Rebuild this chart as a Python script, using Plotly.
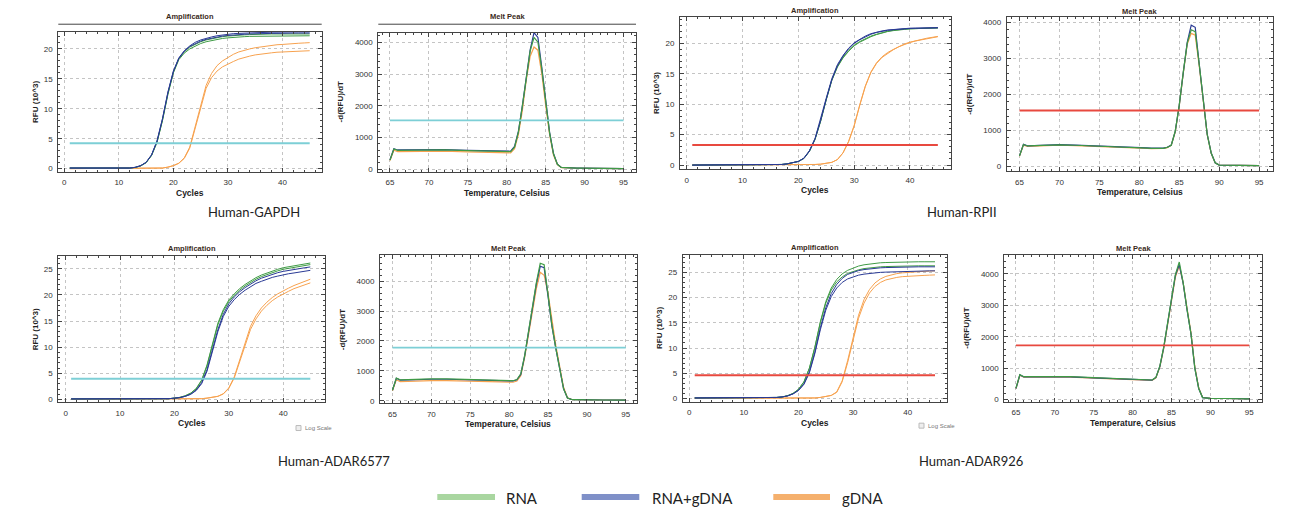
import plotly.graph_objects as go

W, H = 1302, 517

# ---------------- data ----------------
cycles = list(range(1, 46))

# GAPDH amplification (RFU x10^3)
gapdh_rna_1 = [0.1,0.1,0.05,0.05,0,0,0,0,0,0,0.05,0.1,0.2,0.45,1.0,2.2,4.4,8.0,12.4,16.0,18.2,19.3,20.0,20.5,20.9,21.2,21.4,21.6,21.75,21.85,21.95,22.0,22.05,22.1,22.1,22.15,22.15,22.2,22.2,22.2,22.2,22.2,22.2,22.2,22.2]
gapdh_rna_2 = [0.1,0.1,0.05,0.05,0,0,0,0,0,0,0.05,0.1,0.2,0.45,1.0,2.2,4.4,8.1,12.5,16.1,18.4,19.5,20.3,20.8,21.2,21.5,21.7,21.9,22.05,22.15,22.25,22.3,22.35,22.4,22.45,22.45,22.5,22.5,22.5,22.5,22.5,22.5,22.5,22.5,22.5]
gapdh_mix_1 = [0.1,0.1,0.05,0.05,0,0,0,0,0,0,0.05,0.1,0.22,0.5,1.05,2.3,4.6,8.3,12.8,16.3,18.5,19.7,20.5,21.1,21.5,21.8,22.0,22.2,22.35,22.45,22.55,22.6,22.65,22.7,22.75,22.75,22.8,22.8,22.8,22.85,22.85,22.85,22.85,22.85,22.85]
gapdh_mix_2 = [0.1,0.1,0.05,0.05,0,0,0,0,0,0,0.05,0.1,0.22,0.5,1.05,2.3,4.6,8.3,12.7,16.2,18.4,19.6,20.4,20.9,21.3,21.6,21.8,22.0,22.15,22.25,22.35,22.4,22.45,22.5,22.55,22.55,22.6,22.6,22.6,22.65,22.65,22.65,22.65,22.65,22.65]
gapdh_gdna_1 = [0,0,0,0,0,0,0,0,0,0,0,0,0,0,0,0.05,0.05,0.1,0.25,0.5,0.9,1.8,3.6,7.0,10.8,13.9,15.9,17.2,18.0,18.6,19.1,19.5,19.8,20.0,20.2,20.35,20.5,20.6,20.7,20.75,20.85,20.9,20.95,21.0,21.05]
gapdh_gdna_2 = [0,0,0,0,0,0,0,0,0,0,0,0,0,0,0,0.05,0.05,0.1,0.25,0.5,0.9,1.7,3.4,6.7,10.4,13.4,15.2,16.3,17.0,17.5,17.9,18.3,18.6,18.8,19.0,19.15,19.25,19.35,19.45,19.5,19.55,19.6,19.65,19.7,19.7]

# RPII amplification
rpii_rna_1 = [0,0,0,0,0,0,0,0,0,0,0,0,0,0,0,0,0.1,0.2,0.35,0.6,1.1,2.3,4.3,7.3,10.8,14.0,16.2,17.7,18.8,19.7,20.3,20.8,21.2,21.5,21.8,22.0,22.15,22.3,22.35,22.4,22.45,22.5,22.55,22.55,22.55]
rpii_rna_2 = [0,0,0,0,0,0,0,0,0,0,0,0,0,0,0,0,0.1,0.2,0.35,0.6,1.1,2.3,4.2,7.2,10.7,13.9,16.1,17.6,18.7,19.6,20.2,20.7,21.1,21.45,21.75,21.95,22.1,22.25,22.3,22.4,22.45,22.5,22.5,22.55,22.55]
rpii_mix_1 = [0,0,0,0,0,0,0,0,0,0,0,0,0,0,0,0,0.1,0.2,0.35,0.6,1.1,2.3,4.3,7.3,10.8,14.0,16.3,17.9,19.1,20.0,20.6,21.1,21.5,21.8,22.0,22.15,22.25,22.35,22.4,22.45,22.5,22.5,22.55,22.55,22.55]
rpii_mix_2 = [0,0,0,0,0,0,0,0,0,0,0,0,0,0,0,0,0.1,0.2,0.35,0.6,1.15,2.4,4.4,7.5,11.0,14.2,16.5,18.0,19.2,20.1,20.7,21.2,21.6,21.85,22.05,22.2,22.3,22.4,22.45,22.5,22.5,22.55,22.55,22.6,22.6]
rpii_gdna_1 = [0,0,0,0,0,0,0,0,0,0,0,0,0,0,0,0,0,0,0,0.05,0.05,0.05,0.1,0.15,0.25,0.45,0.9,2.0,3.9,6.5,9.9,13.0,15.3,16.8,17.8,18.5,19.0,19.5,19.9,20.2,20.45,20.65,20.85,21.0,21.15]
rpii_gdna_2 = [0,0,0,0,0,0,0,0,0,0,0,0,0,0,0,0,0,0,0,0.05,0.05,0.05,0.1,0.15,0.25,0.45,0.9,2.0,3.8,6.4,9.8,12.9,15.2,16.7,17.7,18.4,18.95,19.45,19.85,20.15,20.4,20.6,20.8,20.95,21.1]

# ADAR6577 amplification
a65_rna_1 = [0.1,0.1,0.1,0.1,0.1,0.1,0.1,0.1,0.1,0.1,0.1,0.1,0.1,0.1,0.1,0.1,0.1,0.1,0.15,0.25,0.4,0.7,1.2,2.1,3.7,6.6,10.6,14.6,17.2,19.0,20.2,21.2,22.0,22.7,23.3,23.8,24.2,24.6,24.9,25.2,25.4,25.6,25.8,25.95,26.1]
a65_rna_2 = [0.1,0.1,0.1,0.1,0.1,0.1,0.1,0.1,0.1,0.1,0.1,0.1,0.1,0.1,0.1,0.1,0.1,0.1,0.15,0.25,0.4,0.7,1.2,2.0,3.6,6.4,10.3,14.3,16.9,18.7,19.9,20.9,21.7,22.4,23.0,23.5,23.9,24.3,24.6,24.9,25.1,25.3,25.5,25.65,25.8]
a65_mix_1 = [0.1,0.1,0.1,0.1,0.1,0.1,0.1,0.1,0.1,0.1,0.1,0.1,0.1,0.1,0.1,0.1,0.1,0.1,0.15,0.25,0.35,0.6,1.0,1.8,3.2,5.7,9.5,13.4,16.3,18.3,19.6,20.6,21.4,22.1,22.7,23.2,23.6,23.95,24.25,24.5,24.7,24.9,25.05,25.2,25.35]
a65_mix_2 = [0.1,0.1,0.1,0.1,0.1,0.1,0.1,0.1,0.1,0.1,0.1,0.1,0.1,0.1,0.1,0.1,0.1,0.1,0.15,0.25,0.35,0.6,1.0,1.7,3.0,5.4,9.1,13.0,15.9,17.8,19.1,20.1,20.9,21.6,22.2,22.6,23.0,23.35,23.6,23.85,24.05,24.2,24.4,24.55,24.7]
a65_gdna_1 = [0.05,0.05,0.05,0.05,0.05,0.05,0.05,0.05,0.05,0.05,0.05,0.05,0.05,0.05,0.05,0.05,0.05,0.05,0.05,0.05,0.05,0.05,0.05,0.05,0.15,0.25,0.4,0.6,1.1,2.2,4.3,7.5,11.0,14.0,16.0,17.5,18.6,19.5,20.2,20.8,21.3,21.8,22.2,22.6,23.0]
a65_gdna_2 = [0.05,0.05,0.05,0.05,0.05,0.05,0.05,0.05,0.05,0.05,0.05,0.05,0.05,0.05,0.05,0.05,0.05,0.05,0.05,0.05,0.05,0.05,0.05,0.05,0.15,0.25,0.4,0.6,1.05,2.1,4.1,7.1,10.5,13.4,15.4,16.9,18.0,18.9,19.6,20.2,20.7,21.2,21.6,21.95,22.3]

# ADAR926 amplification
a92_rna_1 = [0.1,0.1,0.1,0.1,0.1,0.1,0.1,0.1,0.1,0.1,0.1,0.1,0.1,0.1,0.15,0.2,0.3,0.55,1.0,1.8,3.3,6.0,10.2,15.2,19.2,21.9,23.6,24.7,25.4,25.9,26.25,26.5,26.65,26.8,26.9,26.95,27.0,27.0,27.05,27.05,27.05,27.1,27.1,27.1,27.1]
a92_rna_2 = [0.1,0.1,0.1,0.1,0.1,0.1,0.1,0.1,0.1,0.1,0.1,0.1,0.1,0.1,0.15,0.2,0.3,0.55,1.0,1.8,3.3,6.0,10.1,15.0,18.9,21.5,23.1,24.1,24.8,25.2,25.5,25.75,25.9,26.0,26.1,26.15,26.2,26.2,26.25,26.25,26.3,26.3,26.3,26.3,26.3]
a92_mix_1 = [0.1,0.1,0.1,0.1,0.1,0.1,0.1,0.1,0.1,0.1,0.1,0.1,0.1,0.1,0.15,0.2,0.3,0.5,0.9,1.6,2.9,5.3,9.2,14.0,18.0,20.8,22.6,23.8,24.6,25.0,25.35,25.55,25.7,25.8,25.9,25.95,26.0,26.0,26.05,26.05,26.1,26.1,26.1,26.1,26.1]
a92_mix_2 = [0.1,0.1,0.1,0.1,0.1,0.1,0.1,0.1,0.1,0.1,0.1,0.1,0.1,0.1,0.15,0.2,0.3,0.5,0.9,1.6,2.8,5.1,8.9,13.6,17.5,20.2,21.9,23.0,23.7,24.1,24.45,24.65,24.8,24.9,25.0,25.05,25.1,25.15,25.2,25.2,25.25,25.25,25.3,25.3,25.3]
a92_gdna_1 = [0.05,0.05,0.05,0.05,0.05,0.05,0.05,0.05,0.05,0.05,0.05,0.05,0.05,0.05,0.05,0.05,0.05,0.05,0.05,0.05,0.05,0.05,0.1,0.2,0.35,0.6,1.3,3.5,7.5,12.0,16.5,19.6,21.6,22.9,23.7,24.2,24.5,24.75,24.9,25.0,25.1,25.15,25.2,25.25,25.3]
a92_gdna_2 = [0.05,0.05,0.05,0.05,0.05,0.05,0.05,0.05,0.05,0.05,0.05,0.05,0.05,0.05,0.05,0.05,0.05,0.05,0.05,0.05,0.05,0.05,0.1,0.2,0.35,0.6,1.2,3.3,7.1,11.5,15.9,18.9,20.9,22.2,23.0,23.5,23.8,24.0,24.15,24.25,24.3,24.35,24.4,24.45,24.5]

# Melt peak temperatures (Celsius)
temps = [65,65.5,66,67,68,70,72,75,78,80,80.5,81,81.5,82,82.5,83,83.5,84,84.5,85,85.5,86,86.5,87,87.5,88,88.5,89,89.5,90,92,95]

# GAPDH melt -d(RFU)/dT
gapdh_melt_rna = [290,640,600,600,610,620,610,590,570,560,560,700,1180,1980,2930,3720,4150,4000,3150,2080,1150,490,160,60,50,45,45,40,40,40,35,20]
gapdh_melt_mix = [300,650,610,610,620,630,620,600,580,570,570,720,1200,2000,2950,3750,4300,4150,3200,2100,1170,500,160,60,50,45,45,40,40,40,35,20]
gapdh_melt_gdna = [280,600,560,560,570,580,570,550,530,520,520,650,1100,1850,2800,3550,3850,3750,3000,2000,1100,450,150,55,45,40,40,35,35,35,30,20]

# RPII melt
rpii_melt_rna = [300,615,575,585,595,605,595,575,545,525,520,515,510,505,505,510,535,595,990,1710,2620,3430,3800,3750,2850,1800,900,380,110,45,40,30]
rpii_melt_mix = [300,620,580,590,600,610,600,580,550,530,525,520,515,510,510,515,540,600,980,1700,2600,3450,3930,3870,2850,1800,900,380,110,45,40,30]
rpii_melt_gdna = [290,600,565,575,585,595,585,565,535,515,510,505,500,500,500,505,530,590,960,1680,2580,3400,3700,3650,2800,1780,890,370,105,45,40,30]

# ADAR6577 melt
a65_melt_rna = [350,760,700,710,720,730,730,710,690,670,670,710,900,1520,2350,3150,3950,4600,4550,3550,2520,1760,1050,400,90,45,40,35,35,30,25,20]
a65_melt_mix = [350,750,690,700,710,720,720,700,680,660,660,700,880,1500,2300,3100,3900,4500,4450,3500,2500,1750,1050,400,90,45,40,35,35,30,25,20]
a65_melt_gdna = [330,700,640,650,660,670,670,650,630,620,620,660,840,1450,2250,3000,3750,4300,4200,3600,2650,1850,1150,450,100,45,40,35,35,30,25,20]

# ADAR926 melt
a92_melt_rna = [360,790,725,725,730,735,725,695,665,645,640,635,630,625,620,705,1060,1670,2470,3320,3980,4380,3720,2870,2100,1000,350,60,40,35,30,20]
a92_melt_mix = [350,780,720,720,725,730,720,690,660,640,635,630,625,620,615,700,1050,1650,2450,3300,3950,4300,3700,2850,2100,1000,350,60,40,35,30,20]
a92_melt_gdna = [340,770,710,710,715,720,710,680,650,630,625,620,615,610,605,690,1030,1620,2400,3250,3900,4250,3720,2900,2150,1050,370,65,40,35,30,20]

# thresholds
amp_thresholds = [4.25, 3.3, 3.95, 4.6]
melt_thresholds = [1540, 1560, 1780, 1725]
panel_names = ["Human-GAPDH", "Human-RPII", "Human-ADAR6577", "Human-ADAR926"]
legend_names = ["RNA", "RNA+gDNA", "gDNA"]

# ---------------- styles ----------------
C_RNA = "#3f9b45"
C_MIX = "#2a3a95"
C_GDNA = "#f7a24f"
TEAL = "#7dcfd6"
RED = "#e8493f"

def px(x):
    return x / W

def py(y):
    return 1 - y / H

# panel geometry: (left, right, top, bottom) in pixels, x range, y range, kind
panels = [
    dict(box=(58.3, 321.7, 31.7, 172.3), xr=[-1.1, 47.2], yr=[-0.5, 22.9], kind="amp"),
    dict(box=(378.3, 636.0, 32.7, 172.3), xr=[63.5, 96.6], yr=[-72, 4304], kind="melt"),
    dict(box=(680.0, 950.7, 16.7, 170.0), xr=[-1.2, 47.3], yr=[-0.7, 24.4], kind="amp"),
    dict(box=(1006.7, 1272.7, 17.3, 171.7), xr=[63.4, 96.7], yr=[-121, 4149], kind="melt"),
    dict(box=(58.3, 325.0, 256.7, 404.0), xr=[-1.36, 47.7], yr=[-0.57, 27.5], kind="amp"),
    dict(box=(380.0, 636.7, 256.0, 405.0), xr=[63.4, 96.4], yr=[-90, 4877], kind="melt"),
    dict(box=(682.7, 947.3, 255.7, 403.3), xr=[-1.2, 47.25], yr=[-0.65, 28.5], kind="amp"),
    dict(box=(1004.3, 1261.7, 256.0, 403.3), xr=[63.5, 96.6], yr=[-73, 4603], kind="melt"),
]

amp_data = [
    (gapdh_rna_1, gapdh_rna_2, gapdh_mix_1, gapdh_mix_2, gapdh_gdna_1, gapdh_gdna_2),
    (rpii_rna_1, rpii_rna_2, rpii_mix_1, rpii_mix_2, rpii_gdna_1, rpii_gdna_2),
    (a65_rna_1, a65_rna_2, a65_mix_1, a65_mix_2, a65_gdna_1, a65_gdna_2),
    (a92_rna_1, a92_rna_2, a92_mix_1, a92_mix_2, a92_gdna_1, a92_gdna_2),
]
melt_data = [
    (gapdh_melt_rna, gapdh_melt_mix, gapdh_melt_gdna),
    (rpii_melt_rna, rpii_melt_mix, rpii_melt_gdna),
    (a65_melt_rna, a65_melt_mix, a65_melt_gdna),
    (a92_melt_rna, a92_melt_mix, a92_melt_gdna),
]
thr_colors = [TEAL, RED, TEAL, RED]

fig = go.Figure()
layout = dict(
    width=W, height=H, margin=dict(l=0, r=0, t=0, b=0),
    paper_bgcolor="white", plot_bgcolor="white", showlegend=False,
    font=dict(family="Liberation Sans, Arial, sans-serif", size=8, color="#333"),
)

annotations = []
shapes = []

for i, p in enumerate(panels):
    k = i + 1
    xa = "x" if k == 1 else f"x{k}"
    ya = "y" if k == 1 else f"y{k}"
    L, R, T, B = p["box"]
    amp = p["kind"] == "amp"
    gi = i // 2  # gene index
    common = dict(
        showline=True, linecolor="#444", linewidth=1, mirror="allticks",
        ticks="inside", ticklen=4, tickwidth=1, tickcolor="#444",
        showgrid=True, gridcolor="#c4c4c4", griddash="dot", gridwidth=1,
        zeroline=False, tickfont=dict(size=8, color="#333"),
        fixedrange=True,
    )
    layout["xaxis" if k == 1 else f"xaxis{k}"] = dict(
        domain=[px(L), px(R)], range=p["xr"], anchor=ya,
        tickmode="array",
        tickvals=[0, 10, 20, 30, 40] if amp else [65, 70, 75, 80, 85, 90, 95],
        minor=dict(dtick=2 if amp else 1, tick0=0, ticks="inside", ticklen=2, tickcolor="#444", showgrid=False),
        ticklabelstandoff=3,
        **common,
    )
    layout["yaxis" if k == 1 else f"yaxis{k}"] = dict(
        domain=[py(B), py(T)], range=p["yr"], anchor=xa,
        tickmode="array",
        tickvals=([0, 5, 10, 15, 20, 25] if amp else [0, 1000, 2000, 3000, 4000]),
        minor=dict(dtick=1 if amp else 200, tick0=0, ticks="inside", ticklen=2, tickcolor="#444", showgrid=False),
        ticklabelstandoff=3,
        **common,
    )
    if amp:
        d = amp_data[gi]
        series = [(d[4], C_GDNA), (d[5], C_GDNA), (d[0], C_RNA), (d[1], C_RNA), (d[2], C_MIX), (d[3], C_MIX)]
        for ys, col in series:
            fig.add_trace(go.Scatter(x=cycles, y=ys, mode="lines", xaxis=xa, yaxis=ya,
                                     line=dict(color=col, width=1.0), hoverinfo="skip"))
        fig.add_trace(go.Scatter(x=[cycles[0], cycles[-1]], y=[amp_thresholds[gi]] * 2, mode="lines",
                                 xaxis=xa, yaxis=ya, line=dict(color=thr_colors[gi], width=2), hoverinfo="skip"))
        title = "<b>Amplification</b>"
        xt, yt = "<b>Cycles</b>", "<b>RFU (10^3)</b>"
    else:
        d = melt_data[gi]
        series = [(d[2], C_GDNA), (d[1], C_MIX), (d[0], C_RNA)]
        for ys, col in series:
            fig.add_trace(go.Scatter(x=temps, y=ys, mode="lines", xaxis=xa, yaxis=ya,
                                     line=dict(color=col, width=1.2), hoverinfo="skip"))
        fig.add_trace(go.Scatter(x=[temps[0], temps[-1]], y=[melt_thresholds[gi]] * 2, mode="lines",
                                 xaxis=xa, yaxis=ya, line=dict(color=thr_colors[gi], width=1.8), hoverinfo="skip"))
        title = "<b>Melt Peak</b>"
        xt, yt = "<b>Temperature, Celsius</b>", "<b>-d(RFU)/dT</b>"

    cx = (L + R) / 2
    title_y = T - 7 if T > 30 else T - 6
    if i in (0, 1):
        title_y = 17
        shapes.append(dict(type="line", xref="paper", yref="paper", x0=px(L), x1=px(R), y0=py(24.3), y1=py(24.3),
                           line=dict(color="#444", width=1)))
    annotations.append(dict(text=title, x=px(cx), y=py(title_y), xref="paper", yref="paper",
                            showarrow=False, font=dict(size=7.5, color="#3a2a1a"), xanchor="center", yanchor="middle"))
    annotations.append(dict(text=xt, x=px(cx), y=py(B + 21), xref="paper", yref="paper",
                            showarrow=False, font=dict(size=8.5, color="#222"), xanchor="center", yanchor="middle"))
    ytx = L - 23 if amp else L - 38
    annotations.append(dict(text=yt, x=px(ytx), y=py((T + B) / 2), xref="paper", yref="paper", textangle=-90,
                            showarrow=False, font=dict(size=8, color="#222"), xanchor="center", yanchor="middle"))

# Log Scale checkboxes (panels 5 and 7)
for bx, by in [(298.5, 429.7), (921.5, 427.3)]:
    shapes.append(dict(type="rect", xref="paper", yref="paper", x0=px(bx - 2.5), x1=px(bx + 2.5),
                       y0=py(by + 2.5), y1=py(by - 2.5), line=dict(color="#bbb", width=1), fillcolor="#eee"))
    annotations.append(dict(text="Log Scale", x=px(bx + 4.5), y=py(by), xref="paper", yref="paper",
                            showarrow=False, font=dict(size=6, color="#777"), xanchor="left", yanchor="middle"))

# gene labels
for name, (lx, ly) in zip(panel_names, [(254, 213), (962, 213), (334, 463), (971, 463)]):
    annotations.append(dict(text=name, x=px(lx), y=py(ly), xref="paper", yref="paper", showarrow=False,
                            font=dict(family="Lato, Open Sans, sans-serif", size=13, color="#222"),
                            xanchor="center", yanchor="middle"))

# legend at bottom
leg_colors = ["#a9d6a0", "#7f90c8", "#f5b06d"]
leg_lines = [(437.3, 495.0), (581.7, 639.3), (773.3, 830.0)]
leg_text_x = [504, 650, 840]
for nm, col, (x0, x1), tx in zip(legend_names, leg_colors, leg_lines, leg_text_x):
    shapes.append(dict(type="line", xref="paper", yref="paper", x0=px(x0), x1=px(x1), y0=py(499), y1=py(499),
                       line=dict(color=col, width=6)))
    annotations.append(dict(text=nm, x=px(tx), y=py(500), xref="paper", yref="paper", showarrow=False,
                            font=dict(family="Lato, Open Sans, sans-serif", size=15, color="#222"),
                            xanchor="left", yanchor="middle"))

layout["annotations"] = annotations
layout["shapes"] = shapes
fig.update_layout(**layout)
fig.write_html("out.html")
